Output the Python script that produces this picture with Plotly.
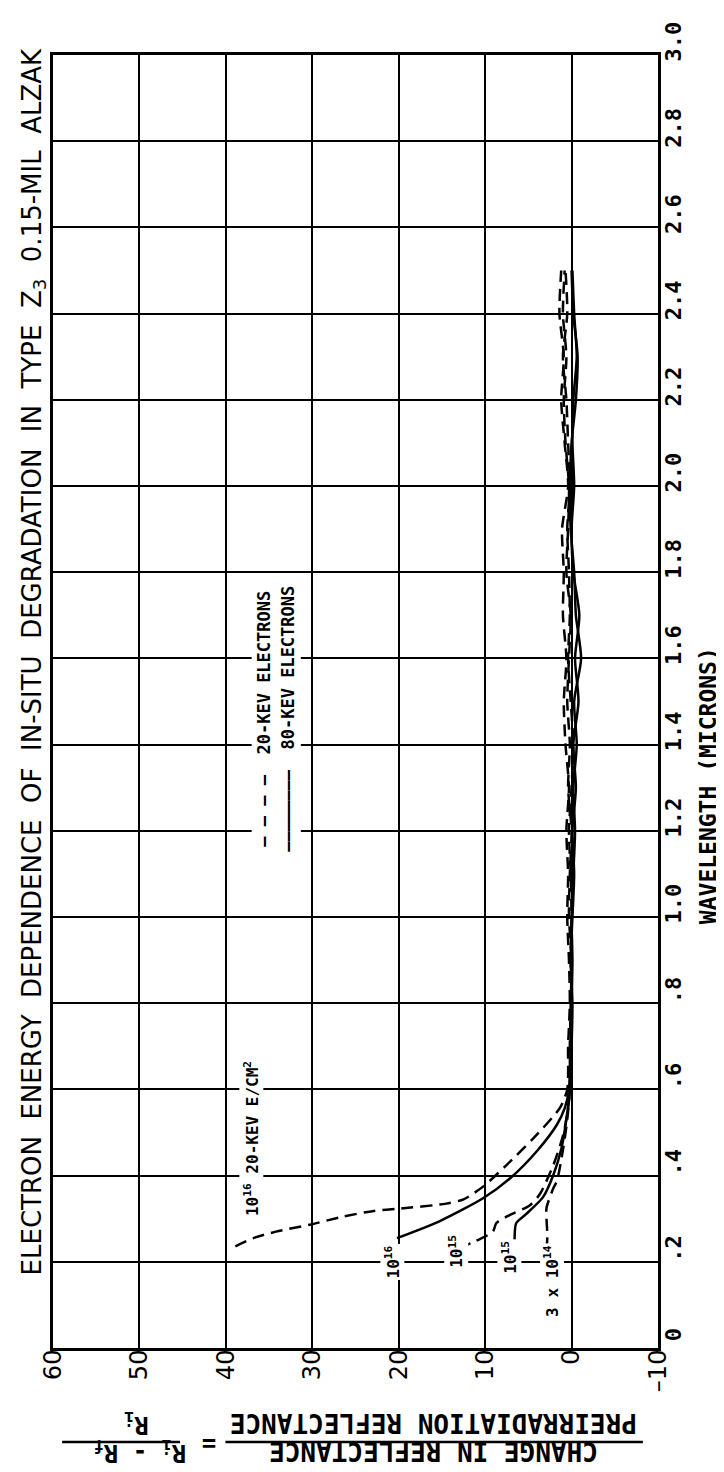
import plotly.graph_objects as go

# ---------------- data ----------------
wavelength_ticks = [0.0, 0.2, 0.4, 0.6, 0.8, 1.0, 1.2, 1.4, 1.6, 1.8, 2.0, 2.2, 2.4, 2.6, 2.8, 3.0]
wavelength_ticktext = ["0", ".2", ".4", ".6", ".8", "1.0", "1.2", "1.4", "1.6", "1.8",
                       "2.0", "2.2", "2.4", "2.6", "2.8", "3.0"]
change_ticks = [60, 50, 40, 30, 20, 10, 0, -10]
change_ticktext = ["60", "50", "40", "30", "20", "10", "0", "\u201310"]

# common tail wavelengths (microns)
w_tail = [0.7, 0.8, 0.9, 1.0, 1.1, 1.2, 1.3, 1.4, 1.5, 1.6, 1.7, 1.8, 1.9, 2.0, 2.1, 2.2, 2.3, 2.4, 2.5]

# 10^16 e/cm2, 20 keV (dashed)
w_16_20 = [0.236, 0.255, 0.27, 0.286, 0.305, 0.318, 0.323, 0.335, 0.345, 0.375, 0.425, 0.487, 0.557, 0.60]
c_16_20 = [38.9, 36.8, 34.2, 30.3, 26.4, 22.9, 20.1, 14.5, 12.5, 10.2, 7.5, 4.4, 1.35, 0.5]
t_16_20 = [0.4, 0.2, 0.3, 0.5, 0.4, 0.6, 0.3, 0.7, 0.9, 0.6, 1.0, 0.9, 1.1, 0.4, 0.8, 1.2, 0.9, 1.4, 1.2]

# 10^16 e/cm2, 80 keV (solid)
w_16_80 = [0.255, 0.294, 0.348, 0.394, 0.456, 0.518, 0.557, 0.60]
c_16_80 = [20.2, 15.3, 10.2, 7.1, 4.05, 1.7, 0.78, 0.3]
t_16_80 = [0.1, 0.0, -0.1, 0.0, -0.2, -0.4, -0.2, -0.6, -0.3, -1.1, -0.5, -0.3, 0.1, 0.2, 0.0, -0.5, -0.7, -0.2, 0.0]

# 10^15 e/cm2, 20 keV (dashed)
w_15_20 = [0.232, 0.248, 0.27, 0.29, 0.31, 0.33, 0.356, 0.425, 0.495, 0.557, 0.60]
c_15_20 = [13.0, 11.1, 9.1, 8.7, 7.0, 4.9, 3.7, 2.1, 0.96, 0.4, 0.2]
t_15_20 = [0.2, 0.1, 0.0, 0.3, 0.2, 0.0, 0.4, 0.2, 0.5, 0.3, 0.1, 0.6, 0.4, 0.3, 0.7, 0.9, 0.6, 1.0, 0.8]

# 10^15 e/cm2, 80 keV (solid)
w_15_80 = [0.248, 0.29, 0.31, 0.35, 0.402, 0.464, 0.534, 0.60]
c_15_80 = [6.6, 6.4, 5.3, 3.3, 2.1, 1.16, 0.58, 0.2]
t_15_80 = [0.0, -0.1, 0.1, -0.1, -0.3, -0.1, -0.5, -0.2, -0.8, -0.4, -0.9, -0.2, 0.0, -0.3, -0.1, -0.2, -0.6, -0.3, -0.1]

# 3x10^14 e/cm2, 20 keV (dashed)
w_14_20 = [0.228, 0.26, 0.30, 0.325, 0.371, 0.387, 0.464, 0.53, 0.60]
c_14_20 = [2.9, 2.8, 2.9, 2.9, 2.1, 1.7, 0.96, 0.5, 0.2]
t_14_20 = [0.1, 0.0, 0.1, 0.0, 0.1, 0.3, 0.0, -0.2, 0.1, 0.4, 0.2, 0.3, 0.5, 0.2, 0.4, 0.6, 1.0, 0.5, 0.7]

curves = [
    (w_16_20, c_16_20, t_16_20, "dash"),
    (w_16_80, c_16_80, t_16_80, "solid"),
    (w_15_20, c_15_20, t_15_20, "dash"),
    (w_15_80, c_15_80, t_15_80, "solid"),
    (w_14_20, c_14_20, t_14_20, "dash"),
]

# in-plot labels: (text, change, wavelength)
curve_labels = [
    ("10<sup>16</sup> 20-KEV E/CM<sup>2</sup>", 37.1, 0.487),
    ("10<sup>16</sup>", 20.7, 0.20),
    ("10<sup>15</sup>", 13.4, 0.225),
    ("10<sup>15</sup>", 7.2, 0.21),
    ("3 x 10<sup>14</sup>", 2.3, 0.155),
]
legend_items = [
    ("\u2014 \u2014 \u2014 \u2014  20-KEV ELECTRONS", 35.6, 1.46),
    ("\u2014\u2014\u2014\u2014\u2014\u2014\u2014\u2014  80-KEV ELECTRONS", 32.8, 1.46),
]

BLACK = "#000000"
fig = go.Figure()
for w, c, t, dash in curves:
    fig.add_trace(go.Scatter(
        x=c + t, y=w + w_tail, mode="lines",
        line=dict(color=BLACK, width=2.5, dash="12px,7px" if dash == "dash" else "solid",
                  shape="spline", smoothing=0.7),
        hoverinfo="skip", showlegend=False))

mono = "DejaVu Sans Mono"
for text, c, w in curve_labels:
    fig.add_annotation(x=c, y=w, xref="x", yref="y", text=text, showarrow=False,
                       textangle=-90, xanchor="center", yanchor="middle",
                       font=dict(family=mono, size=16, color=BLACK, weight="bold"),
                       bgcolor="white", borderpad=1)
for text, c, w in legend_items:
    fig.add_annotation(x=c, y=w, xref="x", yref="y", text=text, showarrow=False,
                       textangle=-90, xanchor="center", yanchor="middle",
                       font=dict(family=mono, size=17, color=BLACK, weight="bold"),
                       bgcolor="white", borderpad=2)

# title (rotated, left of the plot)
title_text = "ELECTRON ENERGY DEPENDENCE OF IN-SITU DEGRADATION IN TYPE Z<sub>3</sub> 0.15-MIL ALZAK"
fig.add_annotation(x=-0.033, y=0.531, xref="paper", yref="paper",
                   text=title_text.replace(" ", "\u00a0\u00a0"),
                   showarrow=False, textangle=-90, xanchor="center", yanchor="middle",
                   font=dict(family="DejaVu Sans", size=26, color=BLACK))
# x-axis (wavelength) title, right side
fig.add_annotation(x=1.082, y=0.435, xref="paper", yref="paper",
                   text="WAVELENGTH (MICRONS)", showarrow=False, textangle=-90,
                   xanchor="center", yanchor="middle",
                   font=dict(family=mono, size=23, color=BLACK, weight="bold"))
# y-axis (change) title, upside down below the plot
fig.add_annotation(x=0.628, y=-0.0575, xref="paper", yref="paper",
                   text="PREIRRADIATION REFLECTANCE", showarrow=False, textangle=180,
                   xanchor="center", yanchor="middle",
                   font=dict(family=mono, size=26, color=BLACK, weight="bold"))
fig.add_annotation(x=0.628, y=-0.0795, xref="paper", yref="paper",
                   text="CHANGE IN REFLECTANCE", showarrow=False, textangle=180,
                   xanchor="center", yanchor="middle",
                   font=dict(family=mono, size=26, color=BLACK, weight="bold"))
fig.add_annotation(x=0.137, y=-0.058, xref="paper", yref="paper",
                   text="R<sub>i</sub>", showarrow=False, textangle=180,
                   xanchor="center", yanchor="middle",
                   font=dict(family=mono, size=24, color=BLACK, weight="bold"))
fig.add_annotation(x=0.144, y=-0.0805, xref="paper", yref="paper",
                   text="R<sub>i</sub> - R<sub>f</sub>", showarrow=False, textangle=180,
                   xanchor="center", yanchor="middle",
                   font=dict(family=mono, size=24, color=BLACK, weight="bold"))
fig.add_annotation(x=0.258, y=-0.0735, xref="paper", yref="paper",
                   text="=", showarrow=False, textangle=180,
                   xanchor="center", yanchor="middle",
                   font=dict(family=mono, size=24, color=BLACK, weight="bold"))
# fraction bars
fig.add_shape(type="line", xref="paper", yref="paper", x0=0.285, x1=0.975, y0=-0.0727, y1=-0.0727,
              line=dict(color=BLACK, width=2.5))
fig.add_shape(type="line", xref="paper", yref="paper", x0=0.015, x1=0.21, y0=-0.0727, y1=-0.0727,
              line=dict(color=BLACK, width=2.5))

fig.update_layout(
    width=724, height=1472, autosize=False,
    margin=dict(l=45, r=74, t=47, b=132),
    paper_bgcolor="white", plot_bgcolor="white",
    showlegend=False,
    xaxis=dict(range=[60, -10], tickvals=change_ticks, ticktext=change_ticktext,
               tickangle=-90, showgrid=True, gridcolor=BLACK, gridwidth=2,
               showline=True, linecolor=BLACK, linewidth=3, mirror=True,
               zeroline=False, ticks="", ticklabelstandoff=-11,
               tickfont=dict(family="DejaVu Sans", size=24, color=BLACK)),
    yaxis=dict(range=[0, 3], side="right", tickvals=wavelength_ticks, ticktext=wavelength_ticktext,
               tickangle=-90, showgrid=True, gridcolor=BLACK, gridwidth=2,
               showline=True, linecolor=BLACK, linewidth=3, mirror=True,
               zeroline=False, ticks="", ticklabelstandoff=-6, ticklabelshift=-10,
               tickfont=dict(family=mono, size=22, color=BLACK, weight="bold")),
)
fig.write_html("out.html")
